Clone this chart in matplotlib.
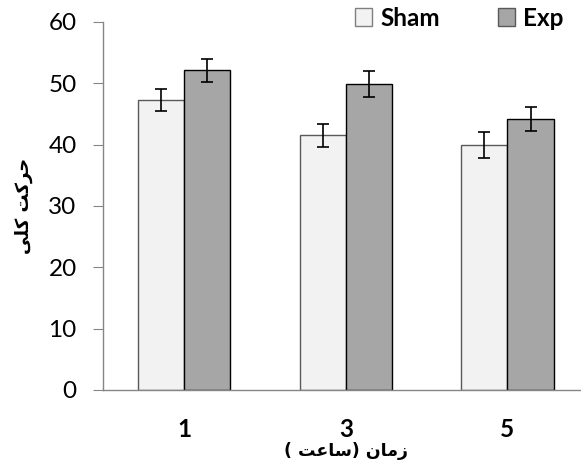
import matplotlib
matplotlib.use("Agg")
import matplotlib.pyplot as plt
import numpy as np
from matplotlib.patches import Patch

# ---- data ----
categories = ["1", "3", "5"]
sham_values = [47.3, 41.5, 39.9]
sham_errors = [1.8, 1.9, 2.1]
exp_values = [52.1, 49.9, 44.2]
exp_errors = [1.85, 2.1, 2.0]
series_names = ["Sham", "Exp"]
y_ticks = [0, 10, 20, 30, 40, 50, 60]
y_label = "حرکت کلی"
x_label = "زمان (ساعت )"

# ---- minimal Arabic/Persian shaping for display ----
FORMS = {
    "ح": (0xFEA1, 0xFEA2, 0xFEA3, 0xFEA4),
    "ر": (0xFEAD, 0xFEAE, None, None),
    "ک": (0xFB8E, 0xFB8F, 0xFB90, 0xFB91),
    "ت": (0xFE95, 0xFE96, 0xFE97, 0xFE98),
    "ل": (0xFEDD, 0xFEDE, 0xFEDF, 0xFEE0),
    "ی": (0xFBFC, 0xFBFD, 0xFBFE, 0xFBFF),
    "ز": (0xFEAF, 0xFEB0, None, None),
    "م": (0xFEE1, 0xFEE2, 0xFEE3, 0xFEE4),
    "ا": (0xFE8D, 0xFE8E, None, None),
    "ن": (0xFEE5, 0xFEE6, 0xFEE7, 0xFEE8),
    "س": (0xFEB1, 0xFEB2, 0xFEB3, 0xFEB4),
    "ع": (0xFEC9, 0xFECA, 0xFECB, 0xFECC),
}


def dual(c):
    return c in FORMS and FORMS[c][2] is not None


def shape(text):
    out = []
    for i, c in enumerate(text):
        if c not in FORMS:
            out.append(c)
            continue
        prev = text[i - 1] if i > 0 else ""
        nxt = text[i + 1] if i + 1 < len(text) else ""
        jp = dual(prev)
        jn = dual(c) and nxt in FORMS
        iso, fin, ini, med = FORMS[c]
        if jp and jn:
            cp = med
        elif jp:
            cp = fin
        elif jn:
            cp = ini
        else:
            cp = iso
        out.append(chr(cp))
    vis = "".join(reversed(out))
    mirror = {"(": ")", ")": "("}
    return "".join(mirror.get(ch, ch) for ch in vis)


fig = plt.figure(figsize=(5.81, 4.68), dpi=100)
ax = fig.add_axes([103.3 / 581, 78 / 468, 485 / 581, 368 / 468])

x = np.arange(len(categories))
w = 0.285
err_kw = dict(ecolor="black", elinewidth=1.2, capsize=4.5, capthick=1.2)
ax.bar(x - w / 2, sham_values, w, yerr=sham_errors, color="#F2F2F2",
       edgecolor="#595959", linewidth=1.0, error_kw=err_kw, label=series_names[0])
ax.bar(x + w / 2, exp_values, w, yerr=exp_errors, color="#A6A6A6",
       edgecolor="black", linewidth=1.0, error_kw=err_kw, label=series_names[1])

ax.set_xlim(-0.5, len(categories) - 0.5)
ax.set_ylim(0, 60)
ax.set_yticks(y_ticks)
ax.set_xticks(x)
ax.set_xticklabels(categories, fontfamily="Lato", fontweight="bold", fontsize=17.5)
ax.set_yticklabels([str(t) for t in y_ticks], fontfamily="Lato", fontsize=17.5)
for s in ["top", "right"]:
    ax.spines[s].set_visible(False)
for s in ["left", "bottom"]:
    ax.spines[s].set_color("#868686")
    ax.spines[s].set_linewidth(1.0)
ax.tick_params(axis="y", direction="out", length=7.2, color="#868686", pad=12)
ax.tick_params(axis="x", length=0, pad=20)

ax.set_xlabel(shape(x_label), fontfamily="DejaVu Sans", fontweight="bold",
              fontsize=12.5, labelpad=1)
ax.set_ylabel(shape(y_label), fontfamily="DejaVu Sans", fontweight="bold",
              fontsize=13, labelpad=11)

handles = [Patch(facecolor="#F2F2F2", edgecolor="#7F7F7F", label=series_names[0]),
           Patch(facecolor="#A6A6A6", edgecolor="#595959", label=series_names[1])]
fig.legend(handles=handles, loc="center left",
           bbox_to_anchor=(355 / 581, 1 - 18 / 468),
           ncol=2, frameon=False, borderpad=0, borderaxespad=0,
           handlelength=0.7, handleheight=0.7,
           handletextpad=0.33, columnspacing=2.4,
           prop=dict(family="Lato", weight="bold", size=17.5))

fig.savefig("out.png", dpi=100)
